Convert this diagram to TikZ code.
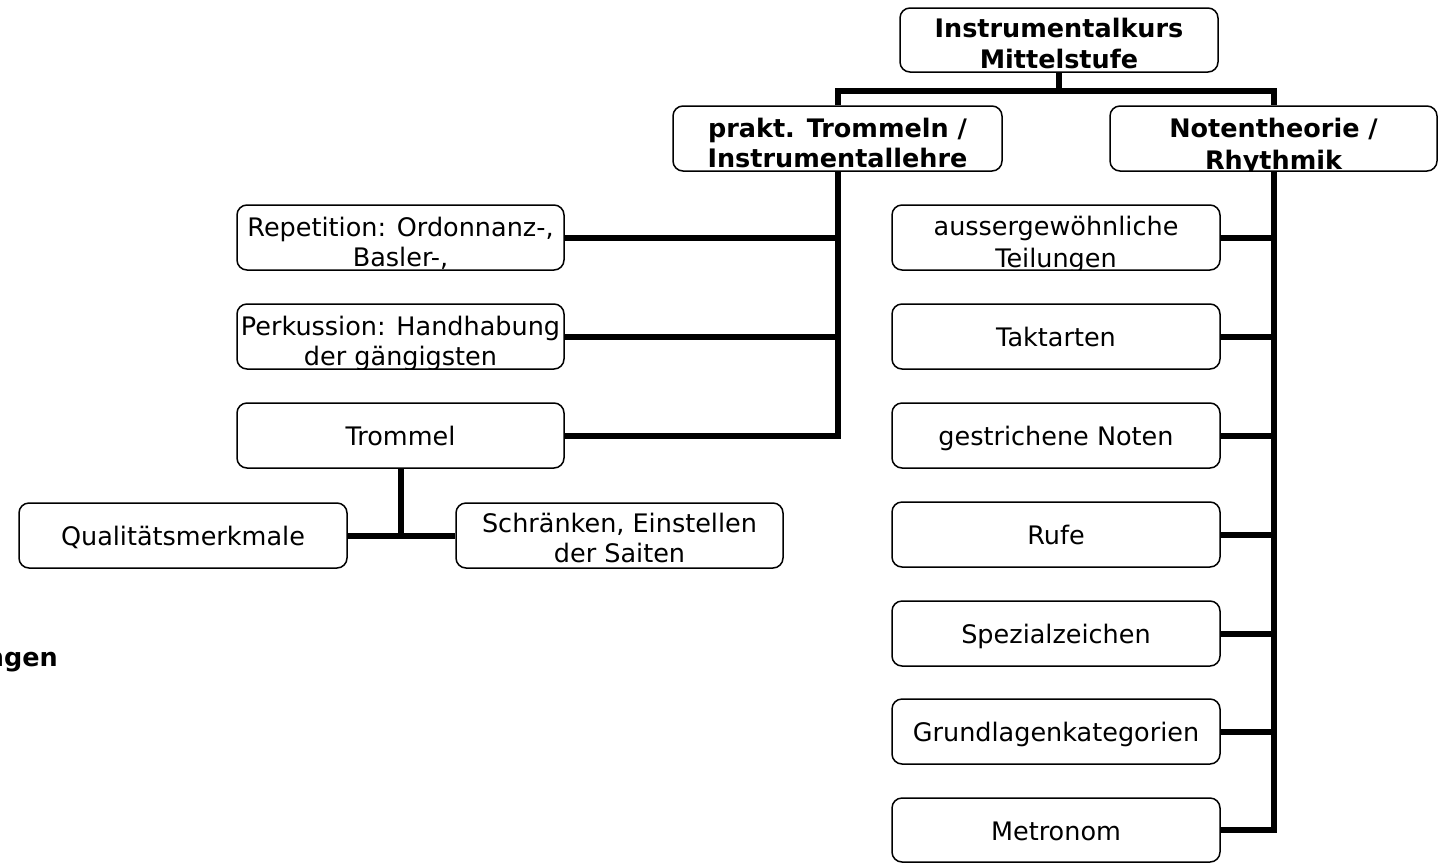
\documentclass[tikz,border=0pt]{standalone}
\usepackage{fontspec}
\setmainfont{DejaVu Sans}
\newcommand{\boxclip}[1]{\clip[rounded corners=10pt] (#1.south west) rectangle (#1.north east);}
\begin{document}
\begin{tikzpicture}[x=1pt,y=1pt,
  box/.style={draw, line width=1.5pt, rounded corners=10pt, inner sep=0pt, minimum height=65pt},
  conn/.style={line width=6pt, line join=miter},
  txt/.style={anchor=base, inner sep=0pt, font=\fontsize{25.5}{30}\selectfont},
  btxt/.style={anchor=base, inner sep=0pt, font=\fontsize{25.5}{30}\selectfont\bfseries}]
\useasboundingbox (0,0) rectangle (1440,-863);

% boxes
\node[box, minimum width=318pt, minimum height=64pt] (top) at (1059,-40) {};
\node[box, minimum width=329pt] (prakt) at (837.5,-138.5) {};
\node[box, minimum width=327pt] (noten) at (1273.5,-138.5) {};
\node[box, minimum width=327pt] (rep) at (400.5,-237.5) {};
\node[box, minimum width=327pt] (perk) at (400.5,-336.5) {};
\node[box, minimum width=327pt] (trom) at (400.5,-435.5) {};
\node[box, minimum width=328pt] (qual) at (183,-535.5) {};
\node[box, minimum width=327pt] (schr) at (619.5,-535.5) {};
\node[box, minimum width=328pt] (teil) at (1056,-237.5) {};
\node[box, minimum width=328pt] (takt) at (1056,-336.5) {};
\node[box, minimum width=328pt] (gest) at (1056,-435.5) {};
\node[box, minimum width=328pt] (rufe) at (1056,-534.5) {};
\node[box, minimum width=328pt] (spez) at (1056,-633.5) {};
\node[box, minimum width=328pt] (grund) at (1056,-731.5) {};
\node[box, minimum width=328pt, minimum height=64pt] (metro) at (1056,-830) {};

% texts (clipped by their boxes)
\begin{scope}\boxclip{top}
  \node[btxt] (top1) at (1059,-37) {Instrumentalkurs};
  \node[btxt] (top2) at (1059,-68) {Mittelstufe};
\end{scope}
\begin{scope}\boxclip{prakt}
  \node[btxt] (prakt1) at (837.5,-137) {prakt. Trommeln /};
  \node[btxt] (prakt2) at (837.5,-167) {Instrumentallehre};
\end{scope}
\begin{scope}\boxclip{noten}
  \node[btxt] (noten1) at (1273.5,-137) {Notentheorie /};
  \node[btxt] (noten2) at (1273.5,-169) {Rhythmik};
\end{scope}
\begin{scope}\boxclip{rep}
  \node[txt] (rep1) at (400.5,-236) {Repetition: Ordonnanz-,};
  \node[txt] (rep2) at (400.5,-266) {Basler-,};
\end{scope}
\begin{scope}\boxclip{perk}
  \node[txt] (perk1) at (400.5,-335) {Perkussion: Handhabung};
  \node[txt] (perk2) at (400.5,-365) {der gängigsten};
\end{scope}
\node[txt] (trom1) at (400.5,-445) {Trommel};
\node[txt] (qual1) at (183,-545) {Qualitätsmerkmale};
\node[txt] (schr1) at (619.5,-532) {Schränken, Einstellen};
\node[txt] (schr2) at (619.5,-562) {der Saiten};
\begin{scope}\boxclip{teil}
  \node[txt] (teil1) at (1056,-235) {aussergewöhnliche};
  \node[txt] (teil2) at (1056,-267) {Teilungen};
\end{scope}
\node[txt] (takt1) at (1056,-346) {Taktarten};
\node[txt] (gest1) at (1056,-445) {gestrichene Noten};
\node[txt] (rufe1) at (1056,-544) {Rufe};
\node[txt] (spez1) at (1056,-643) {Spezialzeichen};
\node[txt] (grund1) at (1056,-741) {Grundlagenkategorien};
\node[txt] (metro1) at (1056,-840) {Metronom};

\node[btxt, anchor=base east] (ngen) at (58,-666) {ngen};

% connectors
\coordinate (hub) at ([yshift=-18pt]top.south);
\draw[conn] (top.south) -- (hub);
\draw[conn] (prakt.north) |- (hub) -| (noten.north);
\draw[conn] (prakt.south) |- (trom.east);
\draw[conn] (rep.east) -- (rep.east -| prakt.south);
\draw[conn] (perk.east) -- (perk.east -| prakt.south);
\draw[conn] (noten.south) |- (metro.east);
\foreach \n in {teil,takt,gest,rufe,spez,grund}
  \draw[conn] (\n.east) -- (\n.east -| noten.south);
\draw[conn] (trom.south) -- (trom.south |- qual.east);
\draw[conn] (qual.east) -- (schr.west);
\end{tikzpicture}
\end{document}
